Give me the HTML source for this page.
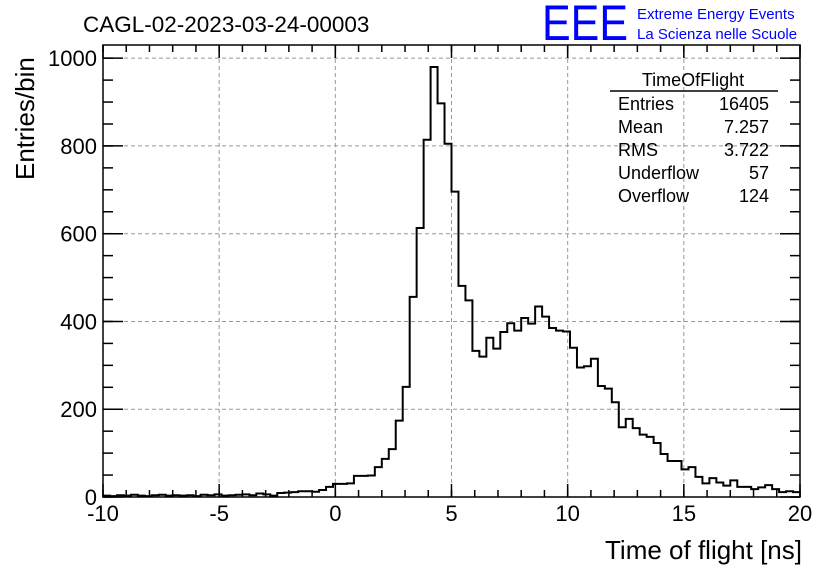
<!DOCTYPE html>
<html><head><meta charset="utf-8"><style>
body{margin:0;background:#fff;width:836px;height:572px;overflow:hidden}
svg text{font-family:"Liberation Sans",sans-serif}
</style></head><body>
<svg width="836" height="572">
<g id="grid"></g>
<path id="hist" fill="none" stroke="#000" stroke-width="2"/>
<rect x="103" y="45" width="697" height="452" fill="none" stroke="#000" stroke-width="1.5"/>
<g id="ticks"></g>
<text x="83" y="32" font-size="22.5">CAGL-02-2023-03-24-00003</text>
<text x="542" y="40" font-size="50" fill="#00f" textLength="86" lengthAdjust="spacingAndGlyphs">EEE</text>
<text x="637" y="19" font-size="15" fill="#00f">Extreme Energy Events</text>
<text x="637" y="39" font-size="15" fill="#00f">La Scienza nelle Scuole</text>
<text x="802" y="559" font-size="26" text-anchor="end">Time of flight [ns]</text>
<text transform="translate(34,180) rotate(-90)" font-size="26" text-anchor="start">Entries/bin</text>
<g font-size="18">
<text x="693" y="86" text-anchor="middle">TimeOfFlight</text>
<line x1="610" y1="91" x2="778" y2="91" stroke="#000" stroke-width="1.5"/>
<text x="618" y="110">Entries</text><text x="769" y="110" text-anchor="end">16405</text>
<text x="618" y="133">Mean</text><text x="769" y="133" text-anchor="end">7.257</text>
<text x="618" y="156">RMS</text><text x="769" y="156" text-anchor="end">3.722</text>
<text x="618" y="179">Underflow</text><text x="769" y="179" text-anchor="end">57</text>
<text x="618" y="202">Overflow</text><text x="769" y="202" text-anchor="end">124</text>
</g>
</svg>
<script>
const binLow = -10, binWidth = 0.3;
const counts = [3,2,4,3,5,3,2,4,5,3,4,3,4,2,5,4,6,3,4,5,6,4,8,6,3,9,10,11,13,13,12,16,23,
30,30,31,48,48,49,68,87,109,174,251,456,613,814,980,897,805,696,481,448,333,320,363,338,376,
396,379,408,395,434,411,385,379,377,340,295,298,315,253,247,216,159,178,157,142,137,123,98,82,82,63,68,46,31,43,33,26,38,23,23,18,22,27,18,11,13,11];
const xTicks = [-10,-5,0,5,10,15,20];
const yTicks = [0,200,400,600,800,1000];
const X0=103,X1=800,Y0=497,Y1=45, xmin=-10,xmax=20,ymin=0,ymax=1030;
const sx=v=>X0+(v-xmin)/(xmax-xmin)*(X1-X0);
const sy=v=>Y0-(v-ymin)/(ymax-ymin)*(Y0-Y1);
const NS='http://www.w3.org/2000/svg';
function mk(tag,attrs,parent){const e=document.createElementNS(NS,tag);for(const k in attrs)e.setAttribute(k,attrs[k]);parent.appendChild(e);return e;}
const grid=document.getElementById('grid'), ticks=document.getElementById('ticks');
let d='M'+sx(binLow)+','+sy(counts[0]);
counts.forEach((c,i)=>{const a=binLow+i*binWidth;d+=' L'+sx(a)+','+sy(c)+' L'+sx(a+binWidth)+','+sy(c);});
document.getElementById('hist').setAttribute('d',d);
xTicks.forEach(t=>{
  if(t>xmin&&t<xmax){const g=mk('line',{x1:sx(t),x2:sx(t),y1:Y1,y2:Y0,stroke:'#999','stroke-dasharray':'4,3'},grid);
  
  }
  mk('line',{x1:sx(t),x2:sx(t),y1:Y0,y2:Y0-13,stroke:'#000','stroke-width':1.5},ticks);
  mk('line',{x1:sx(t),x2:sx(t),y1:Y1,y2:Y1+13,stroke:'#000','stroke-width':1.5},ticks);
  const tx=mk('text',{x:sx(t),y:521,'font-size':22,'text-anchor':'middle'},ticks);
  tx.textContent=t;
  
  
});
for(let v=xmin;v<=xmax;v+=1){mk('line',{x1:sx(v),x2:sx(v),y1:Y0,y2:Y0-7,stroke:'#000','stroke-width':1.5},ticks);mk('line',{x1:sx(v),x2:sx(v),y1:Y1,y2:Y1+7,stroke:'#000','stroke-width':1.5},ticks);}
yTicks.forEach(t=>{
  if(t>0){const g=mk('line',{x1:X0,x2:X1,y1:sy(t),y2:sy(t),stroke:'#999','stroke-dasharray':'4,3'},grid);
  
  }
  mk('line',{x1:X0,x2:X0+20,y1:sy(t),y2:sy(t),stroke:'#000','stroke-width':1.5},ticks);
  mk('line',{x1:X1,x2:X1-20,y1:sy(t),y2:sy(t),stroke:'#000','stroke-width':1.5},ticks);
  const tx=mk('text',{x:97,y:sy(t)+8,'font-size':22,'text-anchor':'end'},ticks);
  tx.textContent=t;
  
  
});
for(let v=0;v<=ymax;v+=50){mk('line',{x1:X0,x2:X0+10,y1:sy(v),y2:sy(v),stroke:'#000','stroke-width':1.5},ticks);mk('line',{x1:X1,x2:X1-10,y1:sy(v),y2:sy(v),stroke:'#000','stroke-width':1.5},ticks);}
</script>
</body></html>
